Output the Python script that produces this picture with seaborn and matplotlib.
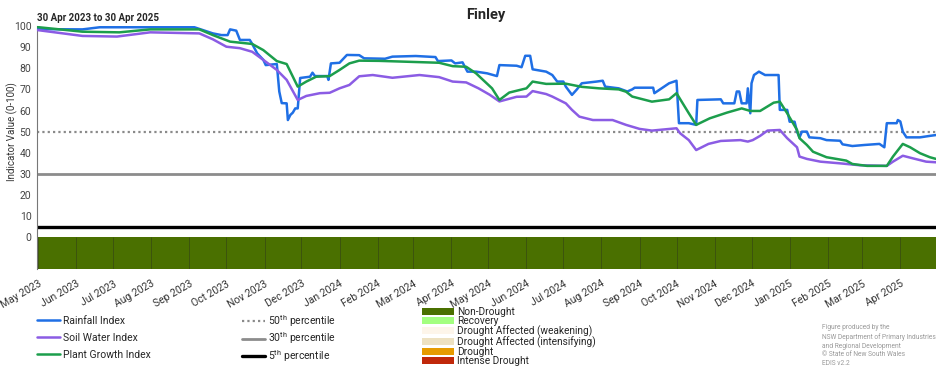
import pandas as pd
import numpy as np
import matplotlib.pyplot as plt
from matplotlib.lines import Line2D
from matplotlib.patches import Patch
import seaborn as sns

sns.set_style('white')
plt.rcParams['font.family'] = ['Roboto', 'DejaVu Sans']
plt.rcParams['mathtext.default'] = 'regular'

TITLE = 'Finley'
PERIOD = '30 Apr 2023 to 30 Apr 2025'
START, END = '2023-04-30', '2025-04-30'

# Rainfall Index
rain_dates = ['2023-04-30', '2023-06-06', '2023-06-20', '2023-09-05', '2023-09-20', '2023-09-27',
              '2023-10-02', '2023-10-04', '2023-10-09', '2023-10-12', '2023-10-20', '2023-10-22',
              '2023-10-26', '2023-10-31', '2023-11-02', '2023-11-11', '2023-11-13', '2023-11-15',
              '2023-11-19', '2023-11-20', '2023-11-22', '2023-11-24', '2023-11-26', '2023-11-28',
              '2023-11-30', '2023-12-08', '2023-12-10', '2023-12-12', '2023-12-22', '2023-12-23',
              '2023-12-25', '2024-01-01', '2024-01-07', '2024-01-17', '2024-01-21', '2024-02-07',
              '2024-02-13', '2024-03-03', '2024-03-19', '2024-03-21', '2024-04-01', '2024-04-04',
              '2024-04-10', '2024-04-14', '2024-04-21', '2024-04-30', '2024-05-08', '2024-05-10',
              '2024-05-24', '2024-05-28', '2024-05-31', '2024-06-04', '2024-06-06', '2024-06-17',
              '2024-06-22', '2024-06-26', '2024-07-01', '2024-07-03', '2024-07-08', '2024-07-12',
              '2024-07-16', '2024-07-28', '2024-08-02', '2024-08-04', '2024-08-15', '2024-08-22',
              '2024-08-26', '2024-08-28', '2024-09-12', '2024-09-13', '2024-09-25', '2024-10-01',
              '2024-10-03', '2024-10-11', '2024-10-17', '2024-10-18', '2024-11-06', '2024-11-08',
              '2024-11-17', '2024-11-19', '2024-11-21', '2024-11-23', '2024-11-27', '2024-11-28',
              '2024-11-30', '2024-12-01', '2024-12-03', '2024-12-07', '2024-12-12', '2024-12-23',
              '2024-12-24', '2024-12-30', '2025-01-01', '2025-01-05', '2025-01-07', '2025-01-09',
              '2025-01-11', '2025-01-15', '2025-01-17', '2025-01-26', '2025-01-31', '2025-02-11',
              '2025-02-13', '2025-02-21', '2025-03-03', '2025-03-15', '2025-03-19', '2025-03-21',
              '2025-03-29', '2025-03-30', '2025-04-01', '2025-04-03', '2025-04-06', '2025-04-17',
              '2025-04-25', '2025-04-30']
rain_vals = [98.5, 98.4, 99.4, 99.4, 96.5, 95.7,
             95.7, 98.4, 97.8, 93.4, 93.4, 91.5,
             87.1, 84.0, 81.5, 82.0, 69.0, 63.5,
             63.4, 55.5, 57.9, 59.0, 61.0, 61.0,
             75.4, 76.0, 77.9, 76.3, 76.3, 74.5,
             82.3, 82.6, 86.3, 86.2, 84.7, 84.5,
             85.5, 85.8, 85.3, 83.4, 83.7, 82.3,
             82.8, 78.4, 78.4, 77.6, 76.3, 81.5,
             81.2, 80.5, 85.9, 85.9, 79.5, 78.4,
             76.8, 73.7, 73.7, 71.3, 67.4, 70.0,
             72.9, 73.7, 74.1, 71.3, 70.5, 69.0,
             70.0, 70.8, 70.8, 68.2, 72.9, 74.1,
             54.0, 54.0, 53.2, 65.0, 65.3, 63.4,
             63.4, 69.0, 69.0, 63.4, 63.4, 70.5,
             58.7, 72.9, 76.8, 78.4, 76.8, 76.8,
             60.3, 60.3, 54.7, 54.7, 50.0, 47.3,
             50.0, 50.0, 47.3, 46.9, 46.0, 45.7,
             44.0, 43.2, 43.7, 44.2, 42.6, 54.0,
             54.0, 55.5, 54.8, 50.0, 47.3, 47.3,
             48.0, 48.4]

# Soil Water Index
soil_dates = ['2023-04-30', '2023-06-06', '2023-07-04', '2023-07-31', '2023-09-09', '2023-09-20',
              '2023-10-01', '2023-10-12', '2023-10-22', '2023-11-02', '2023-11-11', '2023-11-19',
              '2023-11-28', '2023-12-05', '2023-12-16', '2023-12-24', '2024-01-01', '2024-01-09',
              '2024-01-17', '2024-01-28', '2024-02-13', '2024-03-06', '2024-03-22', '2024-04-02',
              '2024-04-13', '2024-04-23', '2024-05-02', '2024-05-10', '2024-05-24', '2024-06-01',
              '2024-06-06', '2024-06-17', '2024-06-22', '2024-07-03', '2024-07-08', '2024-07-14',
              '2024-07-25', '2024-08-10', '2024-08-21', '2024-09-01', '2024-09-11', '2024-10-01',
              '2024-10-04', '2024-10-11', '2024-10-17', '2024-10-27', '2024-11-06', '2024-11-22',
              '2024-11-28', '2024-12-02', '2024-12-08', '2024-12-14', '2024-12-24', '2024-12-30',
              '2025-01-07', '2025-01-09', '2025-01-15', '2025-01-26', '2025-02-11', '2025-02-27',
              '2025-03-21', '2025-03-26', '2025-04-03', '2025-04-11', '2025-04-22', '2025-04-30']
soil_vals = [98.1, 95.3, 95.0, 97.0, 96.5, 93.7,
             90.2, 89.5, 87.8, 83.1, 79.2, 74.5,
             65.0, 66.9, 68.2, 68.4, 70.5, 72.1,
             76.2, 76.8, 75.5, 76.8, 75.8, 73.7,
             73.3, 70.5, 67.5, 64.3, 66.5, 66.6,
             69.2, 67.8, 66.6, 63.4, 60.3, 57.1,
             55.5, 55.5, 53.2, 51.3, 50.5, 51.6,
             49.2, 46.0, 41.3, 44.2, 45.6, 46.0,
             45.3, 46.0, 48.0, 50.5, 50.8, 46.9,
             42.6, 38.2, 37.1, 35.8, 35.0, 34.1,
             33.8, 35.8, 38.6, 37.4, 35.8, 35.5]

# Plant Growth Index
plant_dates = ['2023-04-30', '2023-06-06', '2023-07-06', '2023-07-31', '2023-09-09', '2023-09-20',
               '2023-10-04', '2023-10-22', '2023-10-31', '2023-11-11', '2023-11-19', '2023-11-28',
               '2023-12-05', '2023-12-13', '2023-12-24', '2024-01-01', '2024-01-09', '2024-01-17',
               '2024-02-02', '2024-02-24', '2024-03-22', '2024-04-02', '2024-04-13', '2024-04-21',
               '2024-05-04', '2024-05-10', '2024-05-18', '2024-06-01', '2024-06-06', '2024-06-17',
               '2024-07-03', '2024-07-16', '2024-07-30', '2024-08-15', '2024-08-21', '2024-08-26',
               '2024-09-11', '2024-09-25', '2024-10-01', '2024-10-11', '2024-10-17', '2024-10-28',
               '2024-11-11', '2024-11-23', '2024-11-30', '2024-12-08', '2024-12-19', '2024-12-24',
               '2024-12-30', '2025-01-07', '2025-01-09', '2025-01-15', '2025-01-20', '2025-01-31',
               '2025-02-16', '2025-02-21', '2025-03-05', '2025-03-21', '2025-03-26', '2025-04-03',
               '2025-04-09', '2025-04-17', '2025-04-25', '2025-04-30']
plant_vals = [99.5, 97.3, 97.0, 98.4, 98.4, 95.7,
              92.6, 91.5, 88.6, 83.4, 82.0, 71.3,
              73.7, 76.0, 76.3, 79.2, 82.3, 83.6,
              83.5, 83.1, 82.6, 81.0, 80.7, 77.6,
              70.5, 65.0, 68.5, 70.5, 73.7, 72.6,
              72.7, 71.2, 70.5, 70.0, 68.9, 66.6,
              64.2, 65.3, 68.2, 58.7, 53.2, 56.3,
              59.0, 61.0, 59.8, 59.8, 63.7, 64.2,
              58.7, 50.8, 46.9, 43.7, 40.5, 37.9,
              36.3, 34.7, 33.8, 33.8, 38.2, 44.2,
              42.6, 39.8, 37.9, 37.1]

series_names = ['Rainfall Index', 'Soil Water Index', 'Plant Growth Index']
series_colors = ['#1f6fe5', '#8b5ce4', '#1c9e4c']

percentiles = [50, 30, 5]
percentile_labels = ['50$^{th}$ percentile', '30$^{th}$ percentile', '5$^{th}$ percentile']

status_names = ['Non-Drought', 'Recovery', 'Drought Affected (weakening)',
                'Drought Affected (intensifying)', 'Drought', 'Intense Drought']
status_colors = ['#4a7000', '#a3ff80', '#fdf5ea', '#ede1c1', '#e69b00', '#c0280a']
status_start = ['2023-04-30']
status_end = ['2025-04-30']
status_value = ['Non-Drought']

footnote = ('Figure produced by the\nNSW Department of Primary Industries\n'
            'and Regional Development\n\u00a9 State of New South Wales\nEDIS v2.2')

fig = plt.figure(figsize=(9.52, 3.7), dpi=100)
ax = fig.add_axes([37 / 952, 1 - 269 / 370, 899 / 952, 243 / 370])

# percentile reference lines
pct_styles = [dict(color='#8a8a8a', ls=(0, (1, 1.4)), lw=1.6),
              dict(color='#8c8c8c', ls='-', lw=2.0),
              dict(color='black', ls='-', lw=2.4)]
for p, st in zip(percentiles, pct_styles):
    ax.axhline(p, zorder=1, **st)

# index series
all_series = [(rain_dates, rain_vals), (soil_dates, soil_vals), (plant_dates, plant_vals)]
for (d, v), name, col in zip(all_series, series_names, series_colors):
    df = pd.DataFrame({'date': pd.to_datetime(d), 'value': v})
    sns.lineplot(data=df, x='date', y='value', color=col, lw=1.8, ax=ax, zorder=3)

# drought status band
for s, e, name in zip(status_start, status_end, status_value):
    ax.fill_between(pd.to_datetime([s, e]), -15, 0,
                    color=status_colors[status_names.index(name)], lw=0, zorder=1)

months = pd.date_range('2023-05-01', '2025-04-01', freq='MS')
ax.vlines(months, -15, 0, color='#3a4f10', lw=0.6, zorder=2)
ax.set_xticks(months)
ax.set_xticklabels([m.strftime('%b %Y') for m in months], rotation=30, ha='right',
                   rotation_mode='anchor', fontsize=7.5, color='#333333')
ax.set_xlim(pd.Timestamp(START), pd.Timestamp(END))
ax.set_ylim(-15, 100)
ax.set_yticks(range(0, 101, 10))
ax.tick_params(axis='x', length=0, pad=7)
ax.tick_params(axis='y', direction='in', length=6, width=1, color='#c8c8c8',
               labelsize=7.5, labelcolor='#444444', pad=4)
ax.set_xlabel('')
ax.set_ylabel('')
for side in ['top', 'right', 'bottom']:
    ax.spines[side].set_visible(False)
ax.spines['left'].set_color('#777777')
ax.spines['left'].set_linewidth(0.8)

fig.text(486 / 952, 1 - 15 / 370, TITLE, ha='center', va='center', fontsize=10.5, weight='bold')
fig.text(37 / 952, 1 - 18 / 370, PERIOD, ha='left', va='center', fontsize=7, weight='bold')
fig.text(12 / 952, 1 - 132 / 370, 'Indicator Value (0-100)', rotation=90, ha='center',
         va='center', fontsize=7, color='#333333')

# legends
h1 = [Line2D([], [], color=c, lw=1.8) for c in series_colors]
fig.legend(h1, series_names, loc='upper left', bbox_to_anchor=(37 / 952, 1 - 316 / 370),
           frameon=False, fontsize=7.5, handlelength=2.2, handletextpad=0.3,
           labelspacing=0.65, borderpad=0, borderaxespad=0)
h2 = [Line2D([], [], **st) for st in pct_styles]
fig.legend(h2, percentile_labels, loc='upper left', bbox_to_anchor=(242 / 952, 1 - 313 / 370),
           frameon=False, fontsize=7.5, handlelength=2.2, handletextpad=0.3,
           labelspacing=0.17, borderpad=0, borderaxespad=0)
h3 = [Patch(facecolor=c, edgecolor='none') for c in status_colors]
fig.legend(h3, status_names, loc='upper left', bbox_to_anchor=(422 / 952, 1 - 307 / 370),
           frameon=False, fontsize=7.3, handlelength=3.2, handleheight=0.7,
           handletextpad=0.3, labelspacing=-0.08, borderpad=0, borderaxespad=0)

fig.text(822 / 952, 1 - 324 / 370, footnote, ha='left', va='top', fontsize=4.8,
         color='#999999', linespacing=1.35)

fig.savefig('out.png', dpi=100)
